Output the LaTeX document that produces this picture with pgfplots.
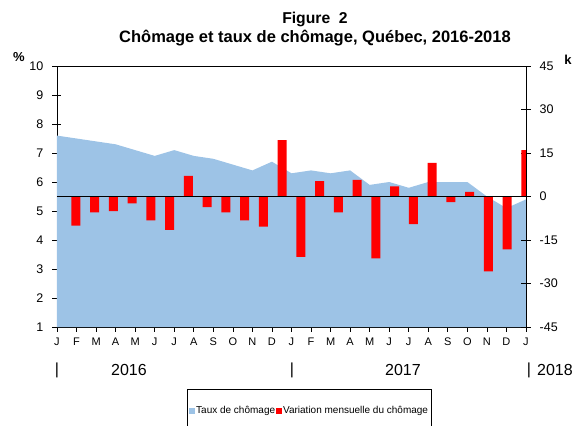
\documentclass[border=0pt]{standalone}
\usepackage{fontspec}
\setmainfont{Liberation Sans}
\usepackage{pgfplots}
\pgfplotsset{compat=1.18}
\definecolor{tauxblue}{HTML}{9DC3E6}

\begin{document}
\begin{tikzpicture}[x=1pt,y=1pt]
\path[use as bounding box] (-57,-99) rectangle (517,327);

% taux de chomage (%), left axis
\begin{axis}[
  at={(0,0)}, anchor=south west, scale only axis,
  width=469pt, height=261pt,
  xmin=0, xmax=24, ymin=1, ymax=10,
  xtick={0,...,24},
  xticklabels={J,F,M,A,M,J,J,A,S,O,N,D,J,F,M,A,M,J,J,A,S,O,N,D,J},
  ytick={1,...,10},
  xtick pos=left, ytick pos=left,
  tick align=center, major tick length=9pt,
  tick style={black, line width=0.7pt},
  axis line style={black, line width=0.8pt},
  /pgf/number format/assume math mode=true,
  yticklabel style={font=\fontsize{12.5}{14}\selectfont, inner sep=0pt, xshift=-9pt},
  xticklabel style={font=\fontsize{11}{13}\selectfont, inner sep=0pt, yshift=-6pt},
  legend style={at={(axis description cs:0.277,-0.2375)}, anchor=north west,
    draw=black, line width=0.6pt, legend columns=2,
    font=\fontsize{10}{12}\selectfont, inner xsep=2pt, inner ysep=16pt,
    nodes={inner sep=1pt}},
  legend image code/.code={\fill[#1] (0pt,-3pt) rectangle (6pt,3pt);},
]
\addplot[fill=tauxblue, draw=none] coordinates {
  (0,7.6) (1,7.5) (2,7.4) (3,7.3) (4,7.1) (5,6.9) (6,7.1) (7,6.9) (8,6.8)
  (9,6.6) (10,6.4) (11,6.7) (12,6.3) (13,6.4) (14,6.3) (15,6.4) (16,5.9)
  (17,6.0) (18,5.8) (19,6.0) (20,6.0) (21,6.0) (22,5.5) (23,5.1) (24,5.4)
} \closedcycle;
\addlegendentry{Taux de chômage}
\addlegendimage{fill=red, draw=none}
\addlegendentry{Variation mensuelle du chômage}
\end{axis}

% variation mensuelle (k), right axis
\begin{axis}[
  at={(0,0)}, anchor=south west, scale only axis,
  width=469pt, height=261pt,
  xmin=0, xmax=25, ymin=-45, ymax=45,
  axis x line=none, axis y line*=right,
  ytick={-45,-30,...,45},
  tick align=center, major tick length=9pt,
  tick style={black, line width=0.7pt},
  axis line style={black, line width=0.8pt},
  /pgf/number format/assume math mode=true,
  yticklabel style={font=\fontsize{12.5}{14}\selectfont, inner sep=0pt, xshift=9pt},
]
\addplot[ybar, bar width=0.48, fill=red, draw=none] coordinates {
  (1,-10) (2,-5.5) (3,-5.0) (4,-2.4) (5,-8.2) (6,-11.5) (7,7.1) (8,-3.7)
  (9,-5.5) (10,-8.2) (11,-10.4) (12,19.4) (13,-20.8) (14,5.3) (15,-5.5)
  (16,5.7) (17,-21.3) (18,3.5) (19,-9.5) (20,11.6) (21,-1.9) (22,1.6)
  (23,-25.8) (24,-18.2) (25,16.0)
};
\addplot[black, line width=0.8pt] coordinates {(0,0) (25,0)};
\end{axis}

% titles and labels
\node[font=\bfseries\fontsize{15.7}{18}\selectfont] at (258,308) {Figure\ \ 2};
\node[font=\bfseries\fontsize{16.5}{19}\selectfont] at (258,289) {Chômage et taux de chômage, Québec, 2016-2018};
\node[font=\bfseries\fontsize{13}{15}\selectfont] at (-38,270) {\%};
\node[font=\bfseries\fontsize{13}{15}\selectfont] at (511,267) {k};
\begin{scope}[font=\fontsize{16}{18}\selectfont]
\node at (0,-43) {|};
\node at (72,-43) {2016};
\node at (235,-43) {|};
\node at (346,-43) {2017};
\node at (472,-43) {|};
\node at (498,-43) {2018};
\end{scope}
\end{tikzpicture}
\end{document}
